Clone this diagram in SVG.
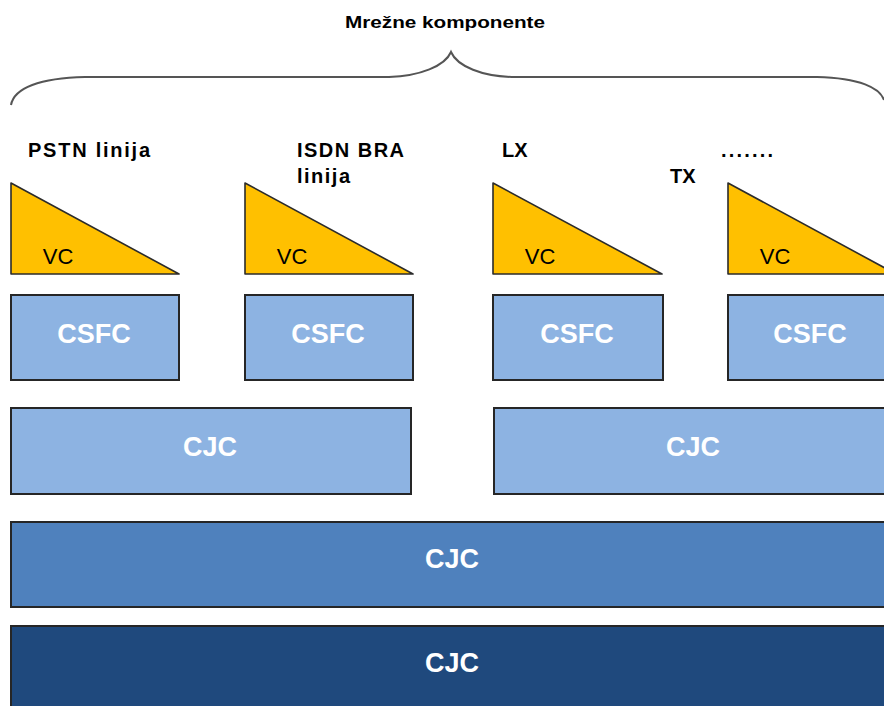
<svg xmlns="http://www.w3.org/2000/svg" width="884" height="706" viewBox="0 0 884 706">
<style>
.lbl{font-family:"Liberation Sans",Arial,sans-serif;font-weight:bold;fill:#000;font-size:20px}
.vc{font-family:"Liberation Sans",Arial,sans-serif;fill:#000;font-size:22px;text-anchor:middle}
.tri{fill:#FFC000;stroke:#2b2b2b;stroke-width:1.6;stroke-linejoin:round}
.box{stroke:#262626;stroke-width:2}
.light{fill:#8DB3E2}
.mid{fill:#4F81BD}
.dark{fill:#1F497D}
.wt{font-family:"Liberation Sans",Arial,sans-serif;font-weight:bold;fill:#fff;font-size:27px;text-anchor:middle}
.brace{fill:none;stroke:#555;stroke-width:2}
</style>
<rect width="884" height="706" fill="#fff"/>
<g id="title">
<text x="445" y="28" text-anchor="middle" font-family="'Liberation Sans',Arial,sans-serif" font-weight="bold" font-size="16" textLength="200" lengthAdjust="spacingAndGlyphs">Mrežne komponente</text>
</g>
<g id="brace">
<path class="brace" d="M11,105 C14,88 40,78 85,77 L389,77 C420,76 445,66 451,52 C457,66 482,77 516,77 L817,77 C860,78 880,88 884,100"/>
</g>
<g id="labels">
<text class="lbl" x="28" y="157" textLength="122" lengthAdjust="spacing">PSTN linija</text>
<text class="lbl" x="297" y="157" textLength="107" lengthAdjust="spacing">ISDN BRA</text>
<text class="lbl" x="297" y="183" textLength="53" lengthAdjust="spacing">linija</text>
<text class="lbl" x="502" y="157">LX</text>
<text class="lbl" x="670" y="183">TX</text>
<text class="lbl" x="721" y="157" textLength="52" lengthAdjust="spacing">.......</text>
</g>
<g id="vc1"><path class="tri" d="M11,183 L179,274 L11,274 Z"/><text class="vc" x="58" y="264">VC</text></g>
<g id="vc2"><path class="tri" d="M245,183 L413,274 L245,274 Z"/><text class="vc" x="292" y="264">VC</text></g>
<g id="vc3"><path class="tri" d="M493,183 L662,274 L493,274 Z"/><text class="vc" x="540" y="264">VC</text></g>
<g id="vc4"><path class="tri" d="M728,183 L896,274 L728,274 Z"/><text class="vc" x="775" y="264">VC</text></g>
<g id="csfc1"><rect class="box light" x="11" y="295" width="168" height="85"/><text class="wt" x="94" y="343">CSFC</text></g>
<g id="csfc2"><rect class="box light" x="245" y="295" width="168" height="85"/><text class="wt" x="328" y="343">CSFC</text></g>
<g id="csfc3"><rect class="box light" x="493" y="295" width="170" height="85"/><text class="wt" x="577" y="343">CSFC</text></g>
<g id="csfc4"><rect class="box light" x="728" y="295" width="164" height="85"/><text class="wt" x="810" y="343">CSFC</text></g>
<g id="cjc1"><rect class="box light" x="11" y="408" width="400" height="86"/><text class="wt" x="210" y="456">CJC</text></g>
<g id="cjc2"><rect class="box light" x="494" y="408" width="398" height="86"/><text class="wt" x="693" y="456">CJC</text></g>
<g id="cjc3"><rect class="box mid" x="11" y="522" width="882" height="85"/><text class="wt" x="452" y="568">CJC</text></g>
<g id="cjc4"><rect class="box dark" x="11" y="626" width="882" height="90"/><text class="wt" x="452" y="672">CJC</text></g>
</svg>
